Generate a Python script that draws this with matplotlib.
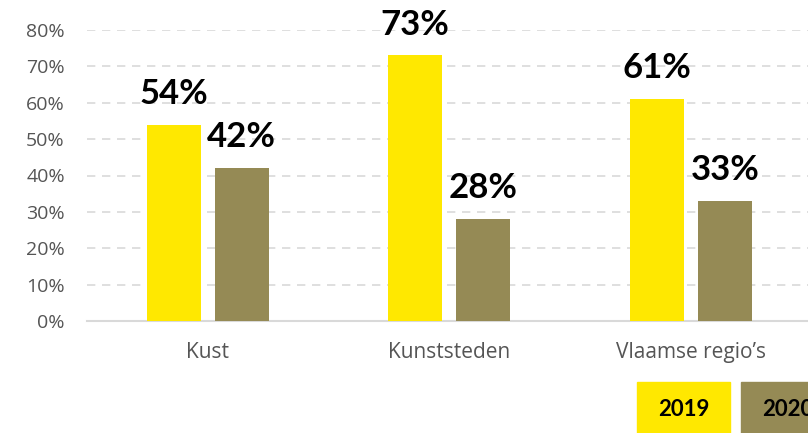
import numpy as np
import matplotlib
matplotlib.use("Agg")
import matplotlib.pyplot as plt
from matplotlib.patches import Rectangle

# data
categories = ["Kust", "Kunststeden", "Vlaamse regio’s"]
years = ["2019", "2020"]
values_2019 = [54, 73, 61]
values_2020 = [42, 28, 33]
yticks = [0, 10, 20, 30, 40, 50, 60, 70, 80]

col_2019 = "#FFE800"
col_2020 = "#958A55"

plt.rcParams["font.family"] = ["Open Sans", "DejaVu Sans"]
bold_font = ["Lato", "DejaVu Sans"]

W, H = 808, 433
fig = plt.figure(figsize=(W / 100, H / 100), dpi=100)
ax = fig.add_axes([87 / W, (H - 321) / H, 1 - 87 / W, (321 - 30) / H])

x = np.arange(len(categories))
width = 0.224
off = 0.141

b1 = ax.bar(x - off, values_2019, width, color=col_2019, zorder=3)
b2 = ax.bar(x + off, values_2020, width, color=col_2020, zorder=3)

for bars, vals in ((b1, values_2019), (b2, values_2020)):
    for r, v in zip(bars, vals):
        ax.annotate(f"{v}%", (r.get_x() + r.get_width() / 2, v),
                    xytext=(0, 15), textcoords="offset points",
                    ha="center", va="baseline", fontsize=25,
                    fontweight="bold", family=bold_font, color="black",
                    annotation_clip=False)

ax.set_xlim(-0.5, 2.485)
ax.set_ylim(0, 80)
ax.set_yticks(yticks)
ax.set_yticklabels([f"{t}%" for t in yticks])
ax.set_xticks(x)
ax.set_xticklabels(categories)
ax.tick_params(axis="y", length=0, labelsize=14, colors="#555555", pad=16)
ax.tick_params(axis="x", length=0, labelsize=15, colors="#555555", pad=15)

ax.yaxis.grid(True, linestyle=(0, (5, 4)), color="#d9d9d9", linewidth=1.2, zorder=0)
ax.set_axisbelow(True)
for s in ["top", "right", "left"]:
    ax.spines[s].set_visible(False)
ax.spines["bottom"].set_color("#d9d9d9")
ax.spines["bottom"].set_linewidth(1.5)

# legend boxes
legend_cols = [col_2019, col_2020]
lx = [637, 741]
for yr, c, x0 in zip(years, legend_cols, lx):
    fig.patches.append(Rectangle((x0 / W, 0), 93 / W, 51 / H,
                                 transform=fig.transFigure, color=c))
    fig.text((x0 + 46.5) / W, 24 / H, yr, ha="center", va="center",
             fontsize=16, fontweight="bold", family=bold_font, color="black")

fig.savefig("out.png", dpi=100)
